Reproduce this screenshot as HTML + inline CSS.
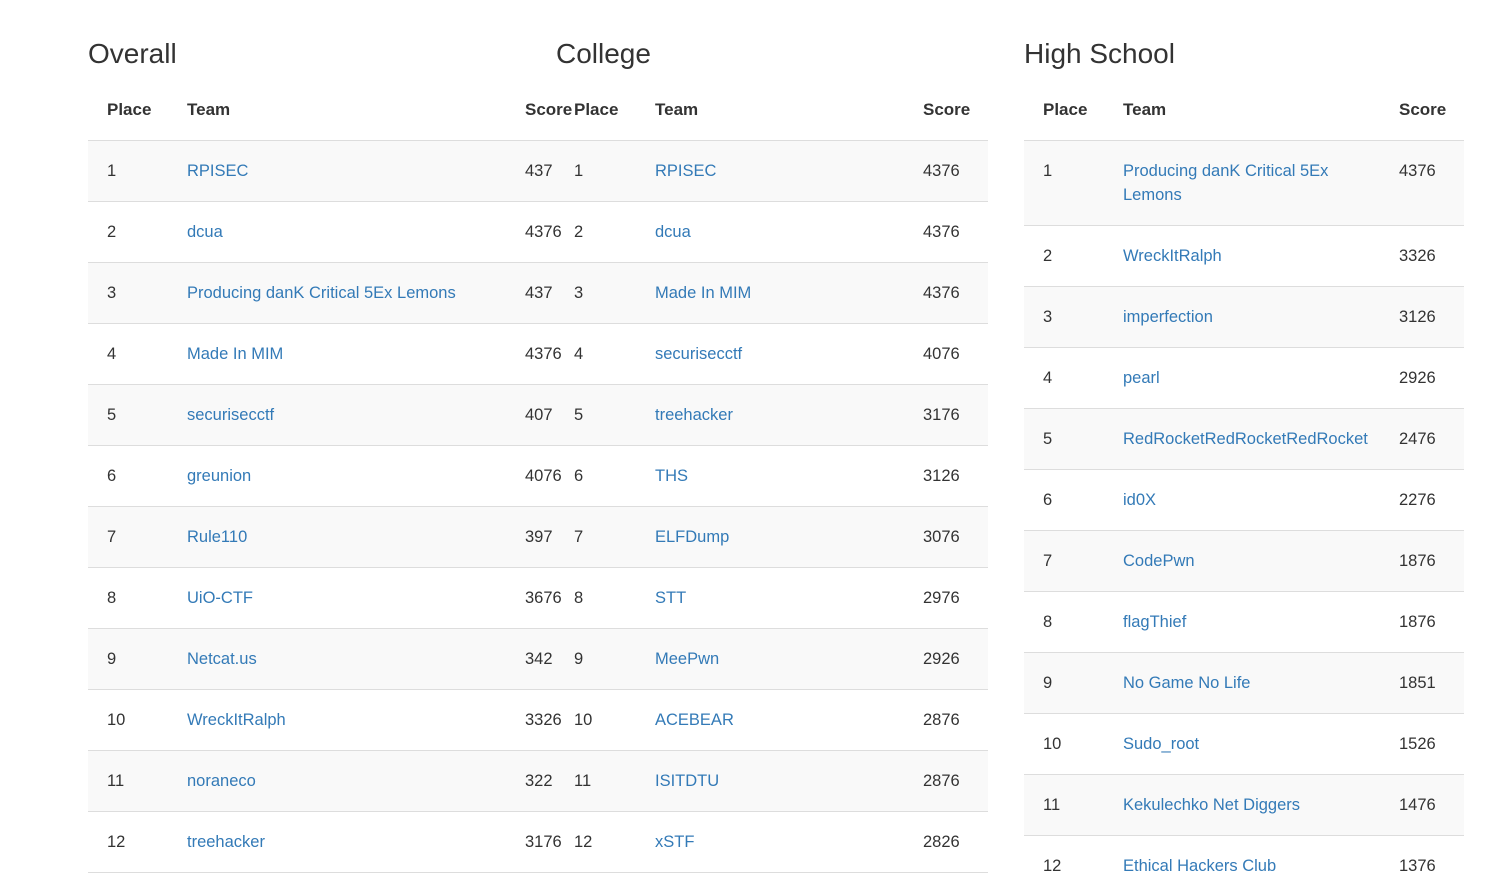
<!DOCTYPE html>
<html><head><meta charset="utf-8">
<style>
body{margin:0;width:1498px;height:877px;overflow:hidden;background:#fff;font-family:"Liberation Sans",sans-serif;color:#333;position:relative}
.h{position:absolute;top:36px;font-size:28px;line-height:36px;color:#333}
.th{position:absolute;top:99px;font-size:17px;font-weight:bold;line-height:22px}
.row{position:absolute;border-top:1px solid #ddd;box-sizing:border-box}
.c{position:absolute;font-size:16.5px;line-height:24px}
a{color:#337ab7;text-decoration:none}
</style></head><body>
<div class="h" style="left:88px">Overall</div>
<div class="h" style="left:556px">College</div>
<div class="h" style="left:1024px">High School</div>

<div class="th" style="left:107px">Place</div>
<div class="th" style="left:187px">Team</div>
<div class="th" style="left:525px">Score</div>
<div class="th" style="left:574px">Place</div>
<div class="th" style="left:655px">Team</div>
<div class="th" style="left:923px">Score</div>
<div class="th" style="left:1043px">Place</div>
<div class="th" style="left:1123px">Team</div>
<div class="th" style="left:1399px">Score</div>
<div id="root"></div>
<script>
const overallTeams=["RPISEC","dcua","Producing danK Critical 5Ex Lemons","Made In MIM","securisecctf","greunion","Rule110","UiO-CTF","Netcat.us","WreckItRalph","noraneco","treehacker"];
const overallScores=["437","4376","437","4376","407","4076","397","3676","342","3326","322","3176"];
const collegeTeams=["RPISEC","dcua","Made In MIM","securisecctf","treehacker","THS","ELFDump","STT","MeePwn","ACEBEAR","ISITDTU","xSTF"];
const collegeScores=["4376","4376","4376","4076","3176","3126","3076","2976","2926","2876","2876","2826"];
const hsTeams=["Producing danK Critical 5Ex<br>Lemons","WreckItRalph","imperfection","pearl","RedRocketRedRocketRedRocket","id0X","CodePwn","flagThief","No Game No Life","Sudo_root","Kekulechko Net Diggers","Ethical Hackers Club"];
const hsScores=["4376","3326","3126","2926","2476","2276","1876","1876","1851","1526","1476","1376"];
const root=document.getElementById('root');
function cell(x,y,html,name,link){
  const d=document.createElement('div');d.className='c';d.style.left=x+'px';d.style.top=y+'px';
  
  
  d.innerHTML=link?'<a href="#">'+html+'</a>':html;root.appendChild(d);
}
function row(x,y,w,h,i,name){
  const r=document.createElement('div');r.className='row';
  r.style.cssText='left:'+x+'px;top:'+y+'px;width:'+w+'px;height:'+h+'px;background:'+(i%2==0?'#f9f9f9':'#fff');
  
  
  root.appendChild(r);
}
for(let i=0;i<12;i++){
  const y=140+i*61;
  row(88,y,900,61,i,'overall-college-row-'+(i+1));
  cell(107,y+19,String(i+1),'overall-place',false);
  cell(187,y+19,overallTeams[i],'overall-team-link',true);
  cell(525,y+19,overallScores[i],'overall-score',false);
  cell(574,y+19,String(i+1),'college-place',false);
  cell(655,y+19,collegeTeams[i],'college-team-link',true);
  cell(923,y+19,collegeScores[i],'college-score',false);
}
const lb=document.createElement('div');lb.className='row';lb.style.cssText='left:88px;top:872px;width:900px;height:2px';


root.appendChild(lb);
for(let i=0;i<12;i++){
  const h=i==0?85:61;
  const y=i==0?140:225+(i-1)*61;
  row(1024,y,440,h,i,'hs-row-'+(i+1));
  cell(1043,y+19,String(i+1),'hs-place',false);
  cell(1123,y+19,hsTeams[i],'hs-team-link',true);
  cell(1399,y+19,hsScores[i],'hs-score',false);
}
</script>
</body></html>
